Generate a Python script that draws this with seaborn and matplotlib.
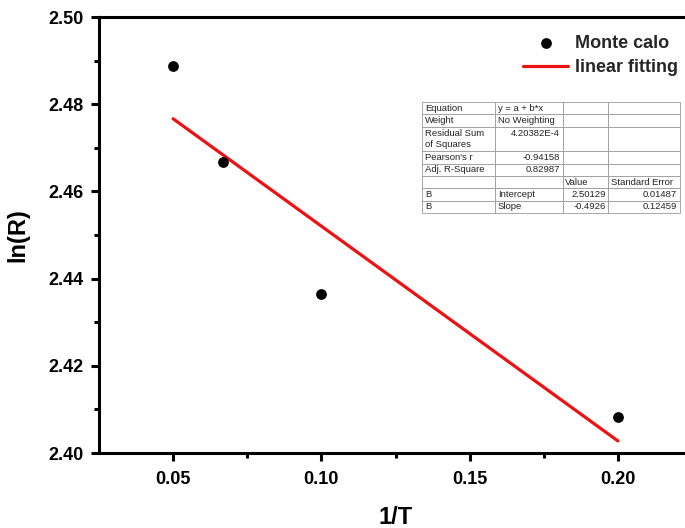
import numpy as np
import matplotlib
matplotlib.use("Agg")
import matplotlib.pyplot as plt
import seaborn as sns

# Monte Carlo points
inv_T = [0.05, 0.0667, 0.10, 0.20]
ln_R = [2.4888, 2.4668, 2.4364, 2.4082]

# fit parameters as reported in the table
intercept = 2.50129
slope = -0.4926

# table contents
table_rows = [
    ["Equation", "y = a + b*x", "", ""],
    ["Weight", "No Weighting", "", ""],
    ["Residual Sum\nof Squares", "4.20382E-4\n", "", ""],
    ["Pearson's r", "-0.94158", "", ""],
    ["Adj. R-Square", "0.82987", "", ""],
    ["", "", "Value", "Standard Error"],
    ["B", "Intercept", "2.50129", "0.01487"],
    ["B", "Slope", "-0.4926", "0.12459"],
]

sns.set_style("white")
plt.rcParams['font.family'] = ['Liberation Sans', 'DejaVu Sans']

fig = plt.figure(figsize=(6.85, 5.28), dpi=100)
ax = fig.add_axes([99 / 685, 1 - 453 / 528, (692 - 99) / 685, (453 - 17) / 528])

fit_x = np.array([min(inv_T), max(inv_T)])
fit_y = intercept + slope * fit_x

sns.lineplot(x=fit_x, y=fit_y, color='#ee1111', lw=2.3, label='linear fitting', ax=ax, zorder=2)
sns.scatterplot(x=inv_T, y=ln_R, color='black', s=60, edgecolor='black', linewidth=0,
                label='Monte calo', ax=ax, zorder=3)

ax.set_xlim(0.025, 0.225)
ax.set_ylim(2.40, 2.50)
ax.set_xticks([0.05, 0.10, 0.15, 0.20])
ax.set_xticks([0.075, 0.125, 0.175], minor=True)
ax.set_yticks([2.40, 2.42, 2.44, 2.46, 2.48, 2.50])
ax.set_yticks([2.41, 2.43, 2.45, 2.47, 2.49], minor=True)
ax.xaxis.set_major_formatter(matplotlib.ticker.FormatStrFormatter('%.2f'))
ax.yaxis.set_major_formatter(matplotlib.ticker.FormatStrFormatter('%.2f'))
ax.tick_params(which='major', direction='out', length=6, width=2.2, labelsize=13,
               color='black', labelcolor='black')
ax.tick_params(axis='x', which='major', pad=7)
ax.tick_params(axis='y', which='major', pad=5)
ax.tick_params(which='minor', direction='out', length=3.5, width=2.2, color='black')
ax.tick_params(bottom=True, left=True, which='both')
for lbl in ax.get_xticklabels() + ax.get_yticklabels():
    lbl.set_fontweight('bold')
for s in ax.spines.values():
    s.set_linewidth(2.2)
    s.set_color('black')

ax.set_xlabel('1/T', fontsize=17, fontweight='bold', labelpad=13, color='black')
ax.set_ylabel('ln(R)', fontsize=17, fontweight='bold', labelpad=14, color='black')

handles, labels = ax.get_legend_handles_labels()
order = [labels.index('Monte calo'), labels.index('linear fitting')]
ax.legend([handles[i] for i in order], [labels[i] for i in order],
          loc='upper left', bbox_to_anchor=(523 / 685, 1 - 35 / 528),
          bbox_transform=fig.transFigure, frameon=False, borderpad=0,
          borderaxespad=0, handlelength=2.5, handletextpad=0.4,
          labelspacing=0.4, prop={'weight': 'bold', 'size': 13})

tb = ax.table(cellText=table_rows, colWidths=[73, 68, 45, 72], cellLoc='left',
              bbox=[(422 - 99) / 593, (453 - 213) / 436, (680 - 422) / 593, (213 - 102) / 436])
tb.auto_set_font_size(False)
tb.set_fontsize(6.8)
right_cells = [(2, 1), (3, 1), (4, 1), (6, 2), (6, 3), (7, 2), (7, 3)]
for (r, c), cell in tb.get_celld().items():
    cell.set_edgecolor('#9a9a9a')
    cell.set_linewidth(0.6)
    cell.get_text().set_color('#222222')
    cell.PAD = 0.04
    cell.set_height(2.0 if r == 2 else 1.0)
    if (r, c) in right_cells:
        cell.get_text().set_horizontalalignment('right')
        cell._loc = 'right'

fig.savefig('out.png', dpi=100)
